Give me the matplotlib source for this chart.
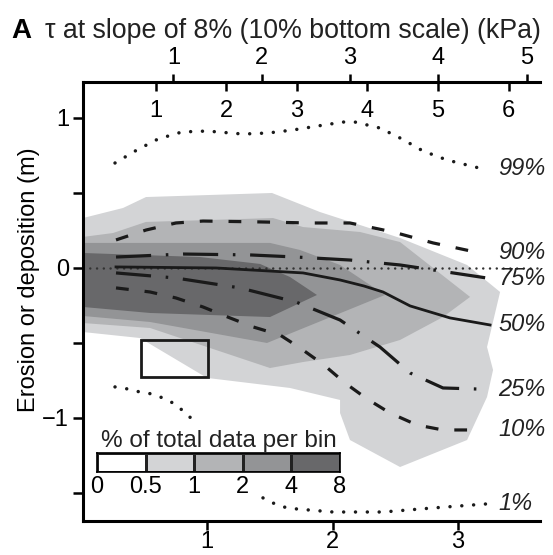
import matplotlib
matplotlib.use('Agg')
import matplotlib.pyplot as plt
import numpy as np
from matplotlib.colors import ListedColormap, BoundaryNorm
from matplotlib.patches import Rectangle

plt.rcParams['font.family'] = ['Liberation Sans', 'DejaVu Sans']

# ---------------- data ----------------
bin_labels = ['0', '0.5', '1', '2', '4', '8']
bin_colors = ['#ffffff', '#d3d4d6', '#b3b4b6', '#939496', '#68686a']

# outlines of the density regions (>0.5, >1, >2, >4 %)
l1_x = [0.012, 0.331, 0.514, 1.518, 1.900, 2.538, 3.072, 3.335, 3.231, 3.279, 3.231, 3.072,
        2.538, 2.139, 2.060, 2.060, 1.661, 1.000, 0.466, 0.012]
l1_y = [0.333, 0.40, 0.473, 0.50, 0.373, 0.20, 0.02, -0.16, -0.527, -0.68, -0.86, -1.147,
        -1.327, -1.147, -0.967, -0.88, -0.80, -0.733, -0.467, -0.427]
l2_x = [0.012, 0.251, 0.514, 1.526, 1.765, 2.219, 2.538, 3.096, 2.880, 2.538, 2.139, 1.765,
        1.502, 0.546, 0.012]
l2_y = [0.207, 0.233, 0.307, 0.333, 0.273, 0.24, 0.173, -0.193, -0.327, -0.48, -0.58, -0.627,
        -0.667, -0.40, -0.367]
l3_x = [0.012, 1.502, 1.741, 2.060, 2.418, 1.478, 0.546, 0.012]
l3_y = [0.167, 0.167, 0.12, 0.02, -0.18, -0.50, -0.36, -0.32]
l4_x = [0.012, 0.944, 1.422, 1.661, 1.876, 1.502, 0.546, 0.012]
l4_y = [0.10, 0.073, 0.027, -0.06, -0.18, -0.327, -0.30, -0.26]

# percentile curves
p99_x = [0.267, 0.442, 0.610, 0.801, 1.000, 1.287, 1.486, 1.685, 1.884, 2.084, 2.179, 2.378,
         2.554, 2.721, 2.912, 3.199]
p99_y = [0.70, 0.787, 0.86, 0.907, 0.913, 0.893, 0.90, 0.92, 0.947, 0.973, 0.973, 0.933,
         0.86, 0.78, 0.72, 0.66]
p90_x = [0.275, 0.514, 0.753, 0.968, 1.422, 1.821, 2.139, 2.482, 2.801, 3.175]
p90_y = [0.187, 0.253, 0.30, 0.313, 0.307, 0.30, 0.30, 0.24, 0.167, 0.10]
p75_x = [0.275, 0.809, 1.343, 1.709, 2.139, 2.538, 2.857, 3.279]
p75_y = [0.073, 0.093, 0.087, 0.073, 0.053, 0.02, -0.02, -0.073]
p50_x = [0.275, 1.072, 1.765, 2.060, 2.25, 2.402, 2.618, 2.936, 3.255]
p50_y = [0.007, 0.0, -0.033, -0.08, -0.12, -0.16, -0.253, -0.333, -0.38]
p25_x = [0.275, 0.753, 1.263, 1.709, 2.060, 2.378, 2.618, 2.880, 3.151]
p25_y = [-0.033, -0.067, -0.133, -0.227, -0.347, -0.527, -0.70, -0.80, -0.807]
p10_x = [0.275, 0.546, 0.753, 0.968, 1.183, 1.367, 1.582, 1.741, 1.932, 2.100, 2.275, 2.458,
         2.673, 2.880, 3.120]
p10_y = [-0.133, -0.16, -0.20, -0.26, -0.333, -0.393, -0.447, -0.533, -0.647, -0.767, -0.873,
         -0.967, -1.047, -1.08, -1.08]
p01_x = [0.267, 0.371, 0.466, 0.562, 0.649, 0.745, 0.809, 0.888, np.nan,
         1.446, 1.526, 1.606, 1.717, 2.004, 2.402, 2.801, 3.231]
p01_y = [-0.793, -0.807, -0.827, -0.84, -0.867, -0.907, -0.953, -1.013, np.nan,
         -1.533, -1.567, -1.593, -1.607, -1.627, -1.627, -1.60, -1.573]

# highlighted box
box_x = [0.474, 1.008]
box_y = [-0.727, -0.48]

# axes scales
y_major = [-1, 0, 1]
y_minor = [-1.5, -0.5, 0.5]
x_ticks = [1, 2, 3]
tau8_ticks = [1, 2, 3, 4, 5]
tau10_ticks = [1, 2, 3, 4, 5, 6]
tau_offset = 0.028
tau8_scale = 0.7036
tau10_scale = 0.5625

FS = 17
# ---------------- figure ----------------
fig = plt.figure(figsize=(5.53, 5.55), dpi=100)
ax = fig.add_axes([83/553, 1-521/555, 457/553, 439/555])
ax.set_xlim(0.012, 3.653)
ax.set_ylim(-1.687, 1.24)

for xs, ys, c in [(l1_x, l1_y, bin_colors[1]), (l2_x, l2_y, bin_colors[2]),
                  (l3_x, l3_y, bin_colors[3]), (l4_x, l4_y, bin_colors[4])]:
    ax.fill(xs, ys, color=c, lw=0, zorder=1)

dot_big = (0, (0.01, 3.4))
dash = (0, (4, 5))
dashdot = (0, (11, 4.6, 0.8, 4.6))
curves = [
    (p99_x, p99_y, '99%', dot_big, 2.5, 'round'),
    (p90_x, p90_y, '90%', dash, 2.3, 'butt'),
    (p75_x, p75_y, '75%', dashdot, 2.3, 'butt'),
    (p50_x, p50_y, '50%', '-', 2.0, 'butt'),
    (p25_x, p25_y, '25%', dashdot, 2.3, 'butt'),
    (p10_x, p10_y, '10%', dash, 2.3, 'butt'),
    (p01_x, p01_y, '1%', dot_big, 2.5, 'round'),
]
for xs, ys, lab, ls, lw, cap in curves:
    ax.plot(xs, ys, color='#1a1a1a', ls=ls, lw=lw, dash_capstyle=cap, zorder=3)
    ax.text(3.319, ys[-1], lab, fontsize=FS, style='italic', color='#222222',
            va='center', ha='left', zorder=4)

ax.axhline(0, color='#333333', ls=(0, (0.01, 2.7)), lw=1.8, dash_capstyle='round', zorder=2)

ax.add_patch(Rectangle((box_x[0], box_y[0]), box_x[1]-box_x[0], box_y[1]-box_y[0],
                       fill=False, ec='#1a1a1a', lw=2.0, zorder=5))

for s in ['left', 'top', 'bottom']:
    ax.spines[s].set_linewidth(2.2)
ax.spines['right'].set_visible(False)
ax.set_yticks(y_major)
ax.set_yticks(y_minor, minor=True)
ax.set_xticks(x_ticks)
ax.tick_params(axis='both', which='both', direction='out', length=7, width=1.8,
               labelsize=FS, pad=3, top=False, right=False)
ax.tick_params(axis='x', length=6.5, pad=0.5)
ax.tick_params(axis='y', which='minor', labelleft=False)
ax.set_ylabel('Erosion or deposition (m)', fontsize=FS)
ax.yaxis.set_label_coords(-0.094, 0.55)

sec8 = ax.secondary_xaxis('top', functions=(lambda x: (x - tau_offset) / tau8_scale,
                                            lambda v: v * tau8_scale + tau_offset))
sec8.set_xticks(tau8_ticks)
sec8.tick_params(direction='out', length=6, width=1.8, labelsize=FS, pad=3.4)
sec8.spines['top'].set_visible(False)

sec10 = ax.secondary_xaxis('top', functions=(lambda x: (x - tau_offset) / tau10_scale,
                                             lambda v: v * tau10_scale + tau_offset))
sec10.set_xticks(tau10_ticks)
sec10.tick_params(direction='in', length=6.5, width=1.8, labelsize=FS, pad=-29)
sec10.spines['top'].set_visible(False)

fig.text(11/553, 1-31/555, 'A', fontsize=20, fontweight='bold', va='center', ha='left')
fig.text(45/553, 1-31/555, 'τ at slope of 8% (10% bottom scale) (kPa)', fontsize=19.3,
         va='center', ha='left', color='#222222')

# legend colour bar
lax = fig.add_axes([97/553, 1-472/555, 243/553, 19/555])
cmap = ListedColormap(bin_colors)
norm = BoundaryNorm(np.arange(len(bin_colors) + 1) - 0.5, cmap.N)
lax.pcolormesh(np.arange(len(bin_labels)), [0, 1], np.arange(len(bin_colors))[None, :],
               cmap=cmap, norm=norm, edgecolors='#222222', linewidth=1.0)
lax.set_xlim(0, len(bin_colors))
lax.set_ylim(0, 1)
lax.set_xticks(np.arange(len(bin_labels)))
lax.set_xticklabels(bin_labels)
lax.set_yticks([])
lax.tick_params(axis='x', length=0, labelsize=FS, pad=3)
for s in lax.spines.values():
    s.set_linewidth(1.2)
lax.set_title('% of total data per bin', fontsize=17.5, pad=4, color='#222222')

fig.savefig('out.png', dpi=100)
